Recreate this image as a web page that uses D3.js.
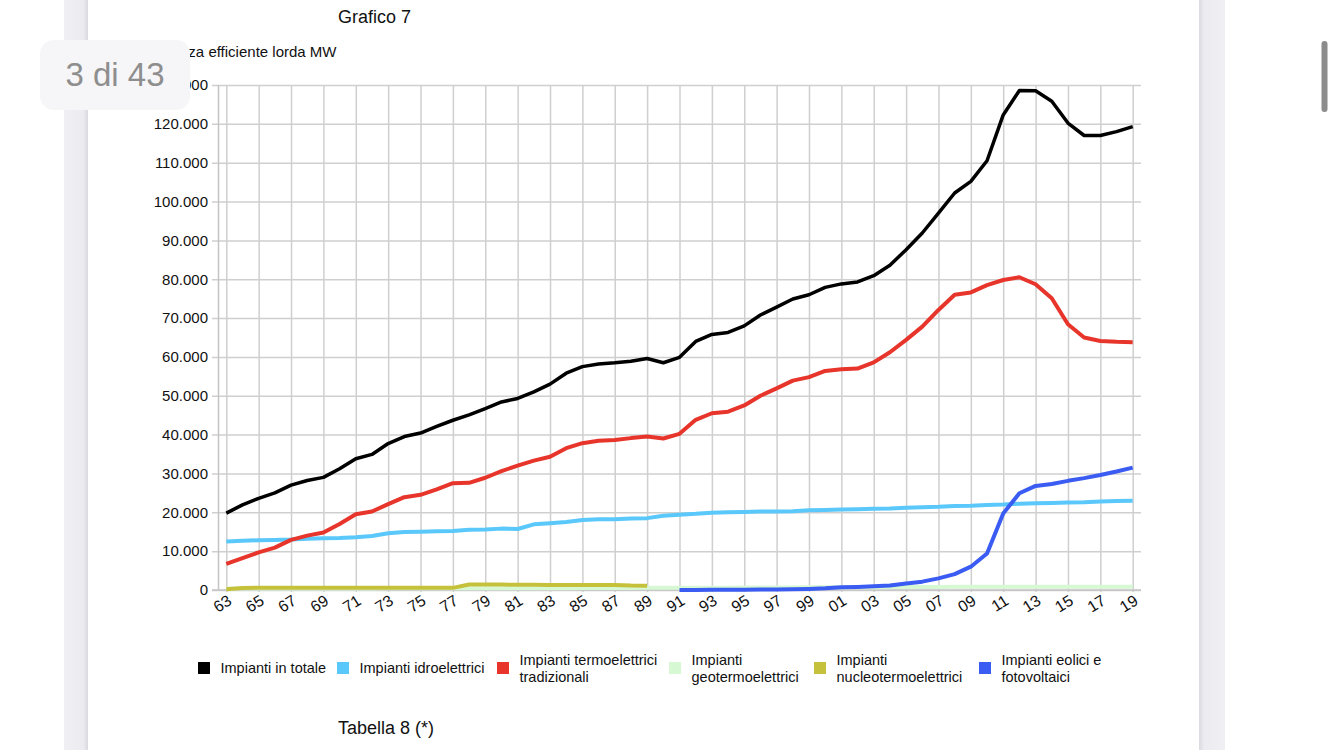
<!DOCTYPE html>
<html lang="it">
<head>
<meta charset="utf-8">
<title>Grafico 7</title>
<script src="https://cdn.jsdelivr.net/npm/d3@7"></script>
<style>
  html, body { margin: 0; padding: 0; background: #fff; overflow: hidden; }
  svg { display: block; font-family: "Liberation Sans", Arial, Helvetica, sans-serif; }
</style>
</head>
<body>
<div id="chartContainer"></div>
<script>
// anni 1963 - 2019
const years = [
  1963, 1964, 1965, 1966, 1967, 1968, 1969, 1970, 1971, 1972,
  1973, 1974, 1975, 1976, 1977, 1978, 1979, 1980, 1981, 1982,
  1983, 1984, 1985, 1986, 1987, 1988, 1989, 1990, 1991, 1992,
  1993, 1994, 1995, 1996, 1997, 1998, 1999, 2000, 2001, 2002,
  2003, 2004, 2005, 2006, 2007, 2008, 2009, 2010, 2011, 2012,
  2013, 2014, 2015, 2016, 2017, 2018, 2019
];

const xTickYears = [1963, 1965, 1967, 1969, 1971, 1973, 1975, 1977, 1979, 1981, 1983, 1985, 1987, 1989,
  1991, 1993, 1995, 1997, 1999, 2001, 2003, 2005, 2007, 2009, 2011, 2013, 2015, 2017, 2019];

const yTicks = [0, 10000, 20000, 30000, 40000, 50000, 60000, 70000, 80000, 90000, 100000, 110000, 120000, 130000];

// potenza efficiente lorda MW
const totale = [
  19800, 21900, 23600, 25000, 27000, 28200, 29000, 31200, 33800, 34900,
  37700, 39500, 40400, 42100, 43700, 45100, 46700, 48400, 49300, 51000,
  53000, 55800, 57500, 58200, 58500, 58900, 59600, 58500, 59900, 64000,
  65800, 66300, 68000, 70800, 72800, 74900, 76000, 77900, 78800, 79300,
  80900, 83600, 87600, 91900, 97000, 102200, 105200, 110500, 122300, 128600,
  128500, 125800, 120200, 117000, 117000, 118000, 119300
];

const idro = [
  12500, 12700, 12800, 12900, 13000, 13200, 13300, 13400, 13600, 13900,
  14600, 14900, 15000, 15100, 15200, 15500, 15600, 15800, 15700, 16900,
  17200, 17500, 18000, 18200, 18200, 18400, 18500, 19100, 19400, 19600,
  19900, 20000, 20100, 20200, 20200, 20300, 20500, 20600, 20700, 20800,
  20900, 21000, 21200, 21300, 21400, 21600, 21700, 21900, 22000, 22200,
  22300, 22400, 22500, 22600, 22800, 22900, 23000
];

const termo = [
  6700, 8200, 9700, 10900, 12900, 14000, 14800, 17000, 19500, 20200,
  22100, 23900, 24500, 25900, 27500, 27600, 28900, 30600, 32000, 33300,
  34300, 36500, 37800, 38400, 38600, 39100, 39500, 39000, 40200, 43800,
  45500, 45900, 47500, 50000, 51900, 53900, 54800, 56400, 56800, 57000,
  58600, 61200, 64400, 67800, 72100, 76000, 76600, 78500, 79800, 80500,
  78700, 75100, 68400, 65000, 64100, 63900, 63800
];

const geo = [
  390, 390, 390, 390, 390, 390, 390, 400, 400, 410,
  420, 420, 420, 420, 420, 440, 440, 440, 450, 450,
  460, 470, 500, 500, 520, 540, 550, 550, 560, 580,
  590, 600, 620, 630, 640, 650, 680, 700, 710, 720,
  740, 760, 780, 790, 800, 810, 820, 830, 840, 850,
  860, 860, 860, 860, 860, 860, 860
];

const nucleare = [
  200, 500, 600, 600, 600, 600, 600, 550, 550, 550,
  550, 550, 550, 550, 550, 1400, 1400, 1400, 1350, 1350,
  1300, 1300, 1300, 1300, 1300, 1150, 1100, null, null, null,
  null, null, null, null, null, null, null, null, null, null,
  null, null, null, null, null, null, null, null, null, null,
  null, null, null, null, null, null, null
];

const eolFot = [
  null, null, null, null, null, null, null, null, null, null,
  null, null, null, null, null, null, null, null, null, null,
  null, null, null, null, null, null, null, null, 20, 30,
  40, 50, 70, 100, 130, 180, 280, 420, 700, 800,
  950, 1150, 1700, 2150, 3000, 4100, 6000, 9400, 19700, 24900,
  26800, 27300, 28100, 28800, 29600, 30500, 31500
];

const seriesNames = [
  ["Impianti in totale"],
  ["Impianti idroelettrici"],
  ["Impianti termoelettrici", "tradizionali"],
  ["Impianti", "geotermoelettrici"],
  ["Impianti", "nucleotermoelettrici"],
  ["Impianti eolici e", "fotovoltaici"]
];

const series = [
  { name: seriesNames[0], values: totale,   color: "#000000", width: 3.5, lx: 198 },
  { name: seriesNames[1], values: idro,     color: "#5ac8fa", width: 4,   lx: 337 },
  { name: seriesNames[2], values: termo,    color: "#e8352b", width: 4,   lx: 497 },
  { name: seriesNames[3], values: geo,      color: "#d6f8d3", width: 4,   lx: 669 },
  { name: seriesNames[4], values: nucleare, color: "#c5c13b", width: 4,   lx: 814 },
  { name: seriesNames[5], values: eolFot,   color: "#3b5cf2", width: 4,   lx: 979 }
];

const width = 1334;
const height = 750;
const plotLeft = 218.5, plotRight = 1141, gridLeft = 212;
const plotTop = 85, plotBottom = 590;

const x = d3.scaleLinear().domain([1963, 2019]).range([226.3, 1132.7]);
const y = d3.scaleLinear().domain([0, 130000]).range([plotBottom, plotTop]);

const itLocale = d3.formatLocale({ decimal: ",", thousands: ".", grouping: [3], currency: ["", " €"] });
const fmt = itLocale.format(",");

const svg = d3.create("svg")
  .attr("width", width)
  .attr("height", height)
  .attr("viewBox", [0, 0, width, height]);

document.getElementById("chartContainer").appendChild(svg.node());

// page background / pdf viewer frame
const defs = svg.append("defs");
const gl = defs.append("linearGradient").attr("id", "stripL");
gl.append("stop").attr("offset", "0%").attr("stop-color", "#f0f0f4");
gl.append("stop").attr("offset", "80%").attr("stop-color", "#ebebf0");
gl.append("stop").attr("offset", "100%").attr("stop-color", "#d9d9df");
const gr = defs.append("linearGradient").attr("id", "stripR");
gr.append("stop").attr("offset", "0%").attr("stop-color", "#d9d9df");
gr.append("stop").attr("offset", "20%").attr("stop-color", "#ebebf0");
gr.append("stop").attr("offset", "100%").attr("stop-color", "#f0f0f4");

svg.append("rect").attr("x", 64).attr("y", 0).attr("width", 24).attr("height", height).attr("fill", "url(#stripL)");
svg.append("rect").attr("x", 1199).attr("y", 0).attr("width", 26).attr("height", height).attr("fill", "url(#stripR)");
svg.append("rect").attr("x", 1321.5).attr("y", 41).attr("width", 6).attr("height", 71).attr("rx", 3).attr("fill", "#8c8c8c");

// titles
svg.append("text")
  .attr("x", 338).attr("y", 23)
  .attr("font-size", 18).attr("fill", "#111")
  .text("Grafico 7");

svg.append("text")
  .attr("x", 336.5).attr("y", 57)
  .attr("text-anchor", "end")
  .attr("font-size", 15).attr("fill", "#111")
  .text("Potenza efficiente lorda MW");

// grid + y axis
const yAxis = svg.append("g")
  .attr("transform", `translate(${gridLeft},0)`)
  .call(d3.axisLeft(y).tickValues(yTicks).tickFormat(fmt)
    .tickSize(-(plotRight - gridLeft)).tickPadding(4));
yAxis.select(".domain").remove();
yAxis.selectAll(".tick line").attr("stroke", "#cfcfcf").attr("stroke-width", 1.5);
yAxis.selectAll(".tick text").attr("font-size", 15).attr("fill", "#111")
  .attr("font-family", "Liberation Sans, Arial, sans-serif");

const xAxis = svg.append("g")
  .attr("transform", `translate(0,${plotBottom})`)
  .call(d3.axisBottom(x).tickValues(xTickYears)
    .tickFormat(d => String(d).slice(2))
    .tickSize(-(plotBottom - plotTop)).tickSizeOuter(0));
xAxis.select(".domain").remove();
xAxis.selectAll(".tick line").attr("stroke", "#cfcfcf").attr("stroke-width", 1.5).attr("y1", 2);
xAxis.selectAll(".tick text")
  .attr("font-size", 16).attr("fill", "#111")
  .attr("font-family", "Liberation Sans, Arial, sans-serif")
  .attr("text-anchor", "end")
  .attr("y", 0).attr("dy", 0)
  .attr("transform", "translate(6,13.5) rotate(-32)");

svg.append("line")
  .attr("x1", plotLeft).attr("x2", plotLeft)
  .attr("y1", plotTop).attr("y2", plotBottom)
  .attr("stroke", "#c4c4c4").attr("stroke-width", 1.5);
svg.append("line")
  .attr("x1", gridLeft).attr("x2", plotRight)
  .attr("y1", plotBottom).attr("y2", plotBottom)
  .attr("stroke", "#c4c4c4").attr("stroke-width", 1.5);

// lines
const line = d3.line()
  .defined(d => d[1] != null)
  .x(d => x(d[0]))
  .y(d => y(d[1]));

series.forEach(s => {
  svg.append("path")
    .attr("fill", "none")
    .attr("stroke", s.color)
    .attr("stroke-width", s.width)
    .attr("stroke-linejoin", "round")
    .attr("stroke-linecap", "butt")
    .attr("d", line(years.map((yr, i) => [yr, s.values[i]])));
});

// legend
const legend = svg.append("g").attr("class", "legend");
series.forEach(s => {
  const g = legend.append("g").attr("transform", `translate(${s.lx},0)`);
  g.append("rect")
    .attr("x", 0).attr("y", 662)
    .attr("width", 12).attr("height", 12)
    .attr("fill", s.color);
  const t = g.append("text")
    .attr("x", 22.5)
    .attr("font-size", 14.5).attr("fill", "#111");
  const base = s.name.length === 1 ? 673 : 665;
  s.name.forEach((ln, i) => {
    t.append("tspan").attr("x", 22.5).attr("y", base + i * 17).text(ln);
  });
});

svg.append("text")
  .attr("x", 338).attr("y", 734)
  .attr("font-size", 18).attr("fill", "#111")
  .text("Tabella 8 (*)");

// page badge
svg.append("rect")
  .attr("x", 40).attr("y", 40).attr("width", 150).attr("height", 70)
  .attr("rx", 14)
  .attr("fill", "#f6f6f8");
svg.append("text")
  .attr("x", 115).attr("y", 86)
  .attr("text-anchor", "middle")
  .attr("font-size", 33).attr("fill", "#8e8e8e")
  .text("3 di 43");
</script>
</body>
</html>
